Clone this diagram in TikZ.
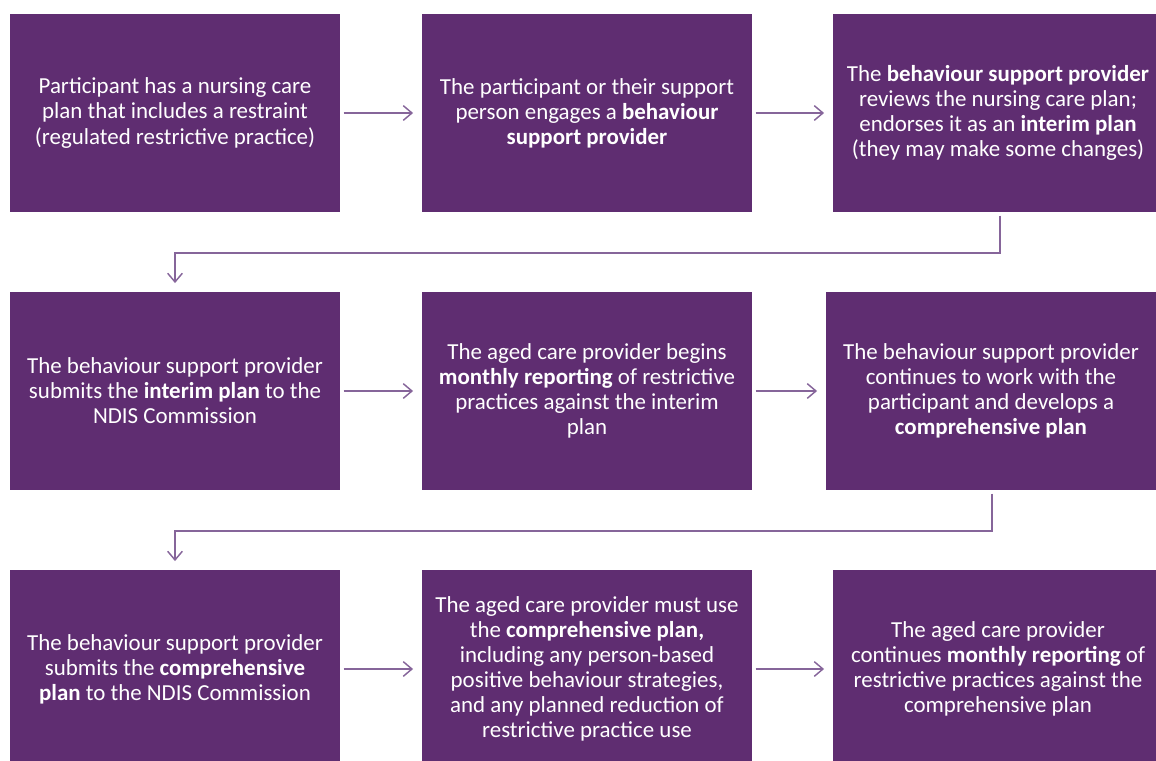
\documentclass[tikz,border=0pt]{standalone}
\usepackage{fontspec}
\setmainfont{Carlito}
\usetikzlibrary{arrows.meta}
\definecolor{ndispurple}{HTML}{5F2D71}
\definecolor{flowpurple}{HTML}{86659A}
\tikzset{
  stepbox/.style={fill=ndispurple, text=white, minimum width=247.5pt, minimum height=148.5pt,
    inner sep=0pt, align=center, font={\fontsize{17.2}{18.8}\selectfont}},
  flow/.style={draw=flowpurple, line width=1.2pt,
    -{Straight Barb[length=6.5pt,width=11pt,line width=1.1pt]}, shorten <=2.5pt, shorten >=6.5pt}
}
\begin{document}
\begin{tikzpicture}
        [x=0.75pt,y=-0.75pt]
        \useasboundingbox (0,0) rectangle (1156,760);

        \node[stepbox] (haveplan) at (175,113) {Participant has a nursing care\\plan that includes a restraint\\(regulated restrictive practice)};
        \node[stepbox] (engage) at (587,113) {The participant or their support\\person engages a \textbf{behaviour}\\\textbf{support provider}};
        \node[stepbox] (review) at (998,113) {The \textbf{behaviour support provider}\\reviews the nursing care plan;\\endorses it as an \textbf{interim plan}\\(they may make some changes)};

        \node[stepbox] (subinterim) at (175,391) {The behaviour support provider\\submits the \textbf{interim plan} to the\\NDIS Commission};
        \node[stepbox] (monthly) at (587,391) {The aged care provider begins\\\textbf{monthly reporting} of restrictive\\practices against the interim\\plan};
        \node[stepbox] (develop) at (991,391) {The behaviour support provider\\continues to work with the\\participant and develops a\\\textbf{comprehensive plan}};

        \node[stepbox] (subcomp) at (175,669) {The behaviour support provider\\submits the \textbf{comprehensive}\\\textbf{plan} to the NDIS Commission};
        \node[stepbox] (usecomp) at (587,669) {The aged care provider must use\\the \textbf{comprehensive plan,}\\including any person-based\\positive behaviour strategies,\\and any planned reduction of\\restrictive practice use};
        \node[stepbox] (keepreport) at (998,669) {The aged care provider\\continues \textbf{monthly reporting} of\\restrictive practices against the\\comprehensive plan};

        \coordinate (bendA) at (175,253);
        \coordinate (bendB) at (175,531);

        \draw[flow] (haveplan) -- (engage);
        \draw[flow] (engage) -- (review.west |- engage);
        \draw[flow] ([xshift=1.5pt]review.south) -- ([xshift=1.5pt]review.south |- bendA) -- (bendA) -- (subinterim.north);

        \draw[flow] (subinterim) -- (monthly);
        \draw[flow] (monthly) -- (develop);
        \draw[flow] ([xshift=0.75pt]develop.south) -- ([xshift=0.75pt]develop.south |- bendB) -- (bendB) -- (subcomp.north);

        \draw[flow] (subcomp) -- (usecomp);
        \draw[flow] (usecomp) -- (keepreport.west |- usecomp);
      \end{tikzpicture}
\end{document}
